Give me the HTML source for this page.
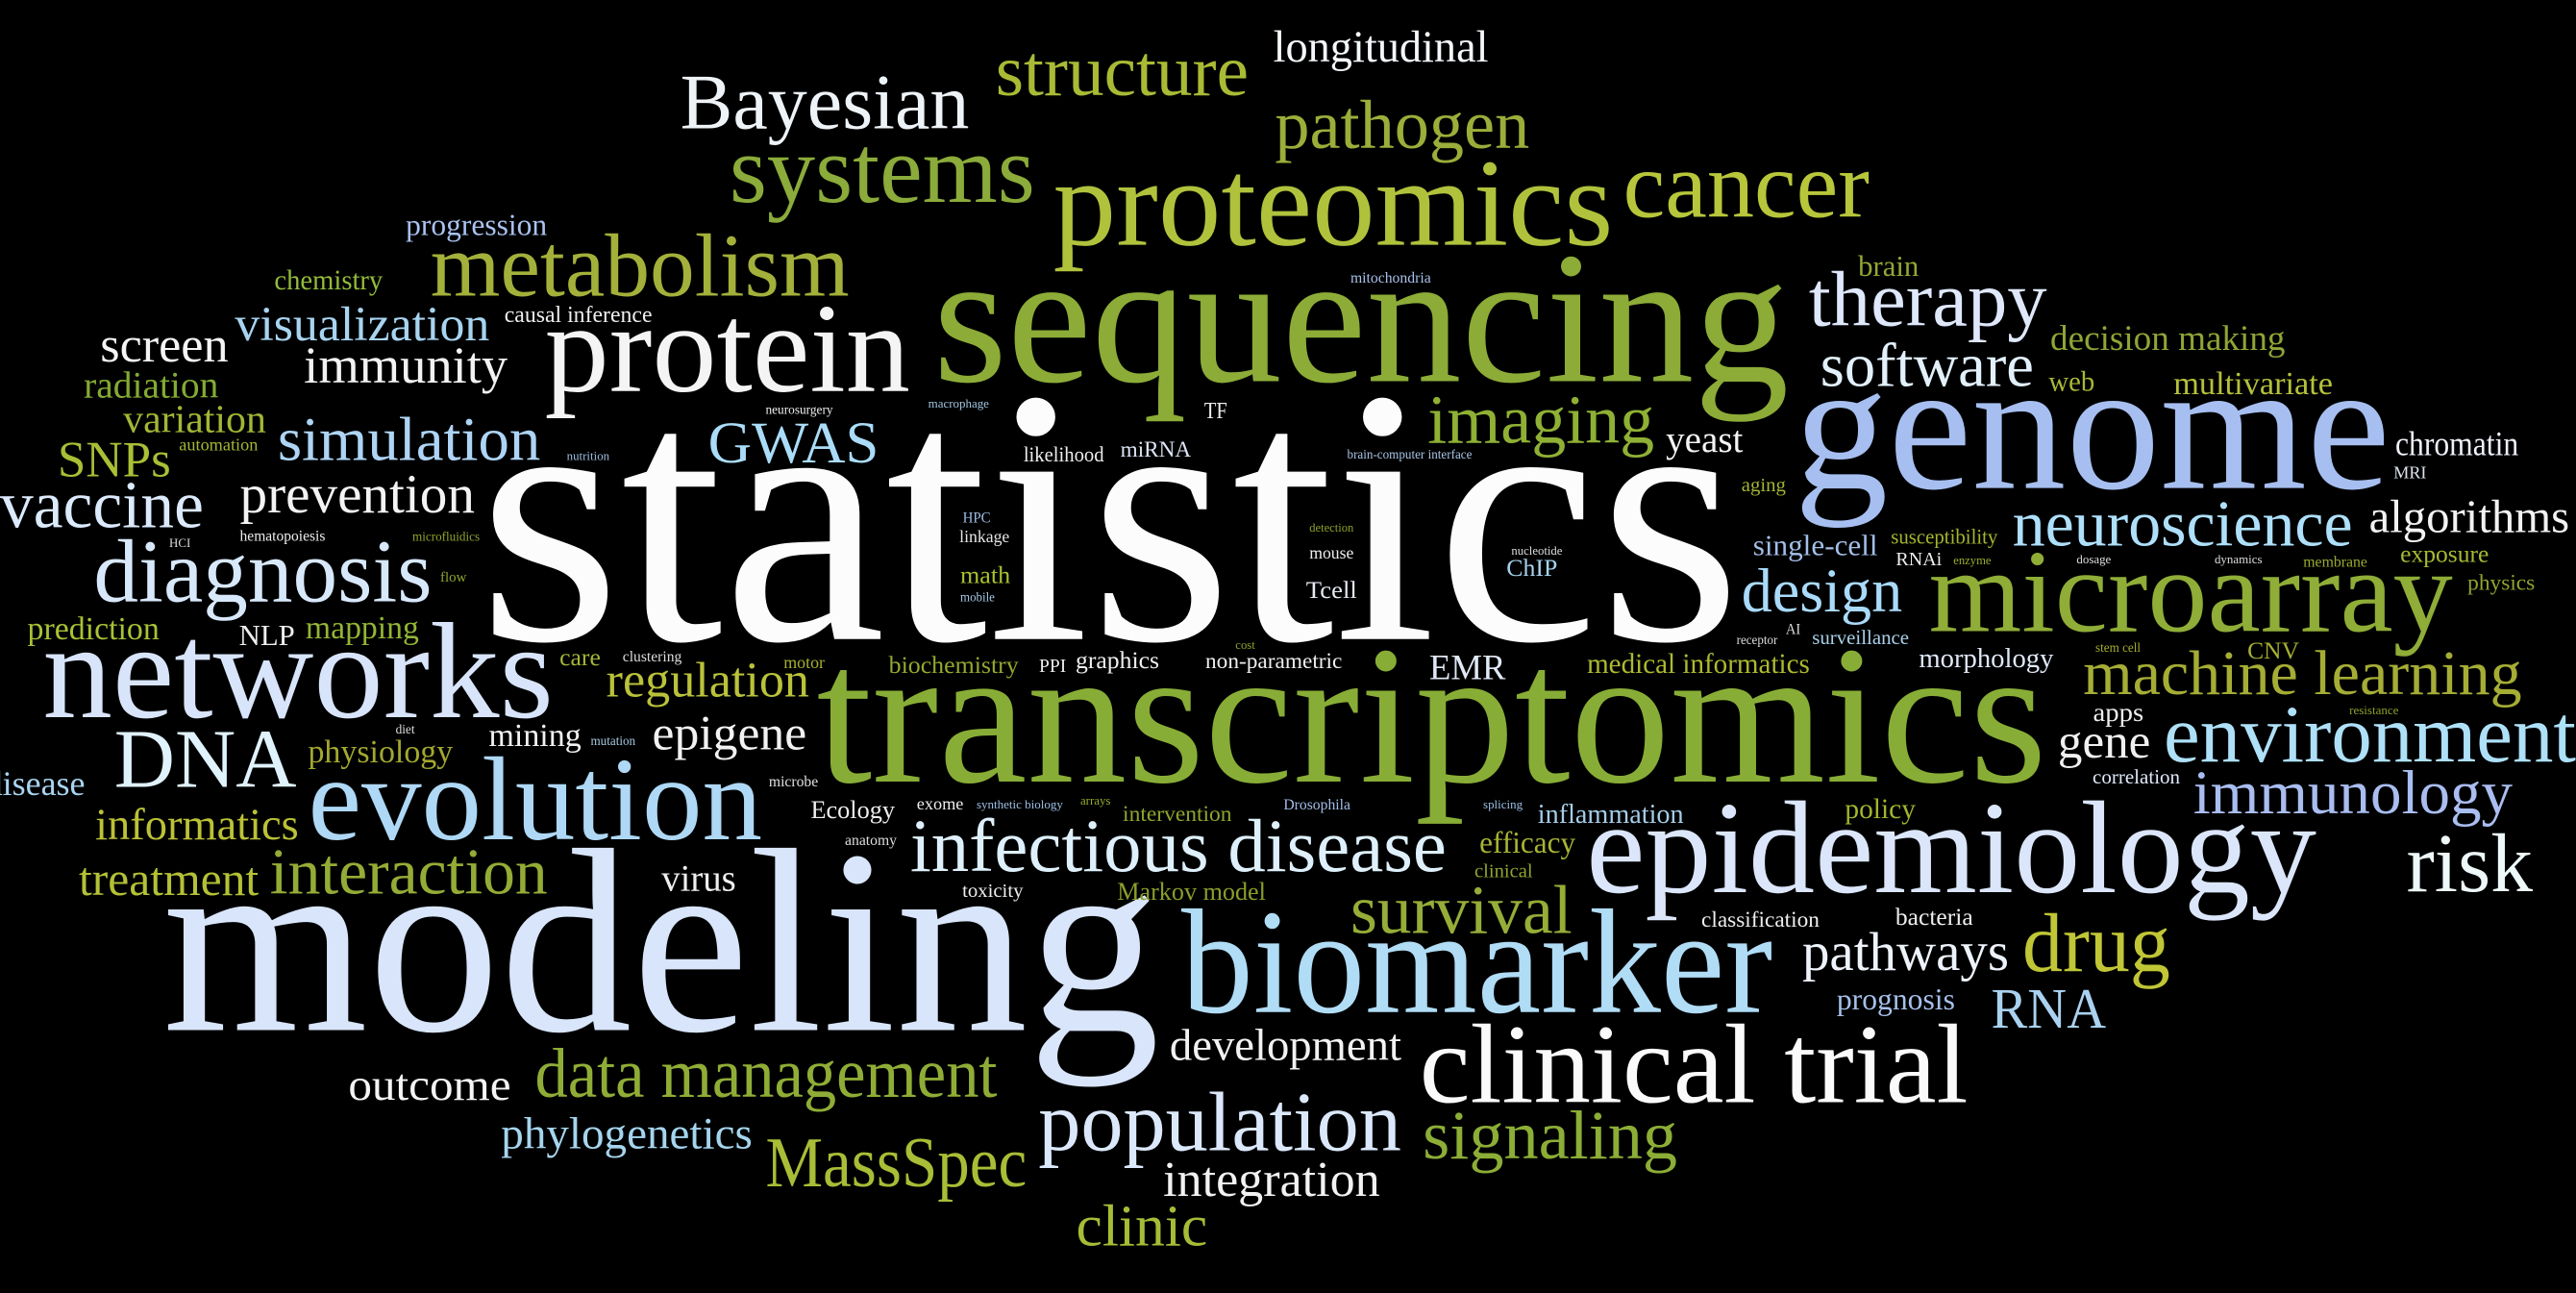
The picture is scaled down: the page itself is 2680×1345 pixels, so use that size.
<!DOCTYPE html>
<html lang="en">
<head>
<meta charset="utf-8">
<title>Word cloud</title>
<style>
html,body{margin:0;padding:0;background:#000;width:2680px;height:1345px;overflow:hidden}
svg{display:block}
text{font-family:"Liberation Serif","Times New Roman",serif;white-space:pre}
</style>
</head>
<body>
<svg xmlns="http://www.w3.org/2000/svg" width="2680" height="1345" viewBox="0 0 1568 787" preserveAspectRatio="none">
<rect width="1568" height="787" fill="#000"/>
<text x="291" y="389" font-size="222" textLength="769" lengthAdjust="spacingAndGlyphs" fill="#fcfcfc">statistics</text>
<text x="568" y="232" font-size="114.7" textLength="521" lengthAdjust="spacingAndGlyphs" fill="#8cac37">sequencing</text>
<text x="497" y="475.7" font-size="120.5" textLength="749" lengthAdjust="spacingAndGlyphs" fill="#88ad36">transcriptomics</text>
<text x="99" y="627" font-size="160" textLength="607" lengthAdjust="spacingAndGlyphs" fill="#d8e5fa">modeling</text>
<text x="1092" y="297" font-size="112.4" textLength="363" lengthAdjust="spacingAndGlyphs" fill="#a6bff0">genome</text>
<text x="641" y="149" font-size="76" textLength="341" lengthAdjust="spacingAndGlyphs" fill="#b0c23c">proteomics</text>
<text x="965.5" y="543" font-size="80.4" textLength="444.5" lengthAdjust="spacingAndGlyphs" fill="#dbe6fb">epidemiology</text>
<text x="719" y="616" font-size="91" textLength="360" lengthAdjust="spacingAndGlyphs" fill="#b0dcf5">biomarker</text>
<text x="26" y="436.5" font-size="83.5" textLength="311" lengthAdjust="spacingAndGlyphs" fill="#d8e4fa">networks</text>
<text x="1174" y="384" font-size="72" textLength="319" lengthAdjust="spacingAndGlyphs" fill="#8fad37">microarray</text>
<text x="331.5" y="238" font-size="77.6" textLength="222.5" lengthAdjust="spacingAndGlyphs" fill="#f4f4f4">protein</text>
<text x="187.5" y="510.8" font-size="72.6" textLength="276.5" lengthAdjust="spacingAndGlyphs" fill="#aed8f5">evolution</text>
<text x="864" y="671" font-size="69" textLength="334" lengthAdjust="spacingAndGlyphs" fill="#fafafa">clinical trial</text>
<text x="444" y="122.9" font-size="59" textLength="186" lengthAdjust="spacingAndGlyphs" fill="#8bab3a">systems</text>
<text x="988" y="132" font-size="57.5" textLength="150" lengthAdjust="spacingAndGlyphs" fill="#b7c63a">cancer</text>
<text x="262" y="180" font-size="54.6" textLength="255" lengthAdjust="spacingAndGlyphs" fill="#a3b03a">metabolism</text>
<text x="57" y="366" font-size="54.5" textLength="206" lengthAdjust="spacingAndGlyphs" fill="#d8e8fb">diagnosis</text>
<text x="632" y="700" font-size="51.7" textLength="221" lengthAdjust="spacingAndGlyphs" fill="#dbe8fb">population</text>
<text x="69.5" y="479" font-size="51" textLength="111" lengthAdjust="spacingAndGlyphs" fill="#e0f2fb">DNA</text>
<text x="1464.8" y="542.4" font-size="51" textLength="76.9" lengthAdjust="spacingAndGlyphs" fill="#eef8f8">risk</text>
<text x="1317" y="463.4" font-size="49.6" textLength="251" lengthAdjust="spacingAndGlyphs" fill="#aee0f8">environment</text>
<text x="1231" y="591" font-size="51" textLength="90" lengthAdjust="spacingAndGlyphs" fill="#c0c636">drug</text>
<text x="414" y="78" font-size="48" textLength="176" lengthAdjust="spacingAndGlyphs" fill="#eef3f8">Bayesian</text>
<text x="1101" y="198" font-size="48" textLength="145" lengthAdjust="spacingAndGlyphs" fill="#dfe8fb">therapy</text>
<text x="554" y="530" font-size="46.1" textLength="326.5" lengthAdjust="spacingAndGlyphs" fill="#def0fb">infectious disease</text>
<text x="606" y="58" font-size="44" textLength="154" lengthAdjust="spacingAndGlyphs" fill="#a9bb35">structure</text>
<text x="466" y="722" font-size="43.5" textLength="159" lengthAdjust="spacingAndGlyphs" fill="#a9bd36">MassSpec</text>
<text x="325.6" y="667.6" font-size="43" textLength="281.4" lengthAdjust="spacingAndGlyphs" fill="#8fad36">data management</text>
<text x="776" y="90" font-size="42" textLength="155" lengthAdjust="spacingAndGlyphs" fill="#9aae3a">pathogen</text>
<text x="869" y="269.6" font-size="42" textLength="138" lengthAdjust="spacingAndGlyphs" fill="#8fb035">imaging</text>
<text x="866" y="705" font-size="42.3" textLength="155" lengthAdjust="spacingAndGlyphs" fill="#8cad36">signaling</text>
<text x="822" y="568" font-size="42" textLength="135" lengthAdjust="spacingAndGlyphs" fill="#96ad38">survival</text>
<text x="0" y="321" font-size="40.6" textLength="124" lengthAdjust="spacingAndGlyphs" fill="#dbeafc">vaccine</text>
<text x="1225" y="332" font-size="39.7" textLength="207" lengthAdjust="spacingAndGlyphs" fill="#aee0fb">neuroscience</text>
<text x="164.3" y="543.8" font-size="39.5" textLength="169" lengthAdjust="spacingAndGlyphs" fill="#94ac36">interaction</text>
<text x="1268" y="422.4" font-size="38.6" textLength="267" lengthAdjust="spacingAndGlyphs" fill="#a5ad35">machine learning</text>
<text x="169" y="280" font-size="38" textLength="160" lengthAdjust="spacingAndGlyphs" fill="#aed4f5">simulation</text>
<text x="1335" y="495" font-size="38" textLength="194.4" lengthAdjust="spacingAndGlyphs" fill="#a9bdf0">immunology</text>
<text x="1108" y="235" font-size="37.8" textLength="130" lengthAdjust="spacingAndGlyphs" fill="#e2f0fb">software</text>
<text x="1060" y="372" font-size="37.5" textLength="98" lengthAdjust="spacingAndGlyphs" fill="#a9dafa">design</text>
<text x="431" y="281.4" font-size="36" textLength="104" lengthAdjust="spacingAndGlyphs" fill="#aadcf8">GWAS</text>
<text x="655" y="758" font-size="36" textLength="80" lengthAdjust="spacingAndGlyphs" fill="#a5bd36">clinic</text>
<text x="146" y="312" font-size="33.4" textLength="143" lengthAdjust="spacingAndGlyphs" fill="#f3f3f3">prevention</text>
<text x="1097" y="590.5" font-size="33.4" textLength="125.8" lengthAdjust="spacingAndGlyphs" fill="#eef3fb">pathways</text>
<text x="1212" y="625.4" font-size="34.5" textLength="70" lengthAdjust="spacingAndGlyphs" fill="#aad2f0">RNA</text>
<text x="185" y="233" font-size="31.6" textLength="124" lengthAdjust="spacingAndGlyphs" fill="#f2f2f2">immunity</text>
<text x="35" y="290" font-size="31" textLength="69" lengthAdjust="spacingAndGlyphs" fill="#a9bf36">SNPs</text>
<text x="61" y="220" font-size="30.5" textLength="78" lengthAdjust="spacingAndGlyphs" fill="#f5f5f5">screen</text>
<text x="369" y="424" font-size="30.5" textLength="123.6" lengthAdjust="spacingAndGlyphs" fill="#bac23a">regulation</text>
<text x="708" y="728" font-size="30.5" textLength="132" lengthAdjust="spacingAndGlyphs" fill="#f2f2f2">integration</text>
<text x="143" y="207" font-size="30" textLength="155" lengthAdjust="spacingAndGlyphs" fill="#a8d4f0">visualization</text>
<text x="397" y="456" font-size="30" textLength="94" lengthAdjust="spacingAndGlyphs" fill="#f2f2f2">epigene</text>
<text x="1252.6" y="461" font-size="29.9" textLength="56.4" lengthAdjust="spacingAndGlyphs" fill="#f0f0f0">gene</text>
<text x="48" y="544.7" font-size="29" textLength="109.5" lengthAdjust="spacingAndGlyphs" fill="#b4c136">treatment</text>
<text x="1442" y="324" font-size="28.5" textLength="122" lengthAdjust="spacingAndGlyphs" fill="#f2f2f2">algorithms</text>
<text x="212" y="669.5" font-size="27" textLength="99" lengthAdjust="spacingAndGlyphs" fill="#f4f4f4">outcome</text>
<text x="305" y="699" font-size="27.5" textLength="153" lengthAdjust="spacingAndGlyphs" fill="#a5d5ee">phylogenetics</text>
<text x="712" y="645" font-size="27.3" textLength="141" lengthAdjust="spacingAndGlyphs" fill="#f2f2f2">development</text>
<text x="58" y="510.8" font-size="27.2" textLength="123.8" lengthAdjust="spacingAndGlyphs" fill="#bbc236">informatics</text>
<text x="775" y="37.6" font-size="27" textLength="131" lengthAdjust="spacingAndGlyphs" fill="#f4f8fb">longitudinal</text>
<text x="75" y="263" font-size="24.2" textLength="87" lengthAdjust="spacingAndGlyphs" fill="#a3b636">variation</text>
<text x="51" y="242" font-size="23" textLength="82" lengthAdjust="spacingAndGlyphs" fill="#84ab33">radiation</text>
<text x="1014" y="275" font-size="23" textLength="47" lengthAdjust="spacingAndGlyphs" fill="#f4f4f4">yeast</text>
<text x="1248" y="213" font-size="21.7" textLength="143" lengthAdjust="spacingAndGlyphs" fill="#8fa535">decision making</text>
<text x="870" y="413.5" font-size="21.5" textLength="46.5" lengthAdjust="spacingAndGlyphs" fill="#e0e8f5">EMR</text>
<text x="1458" y="277" font-size="21" textLength="75" lengthAdjust="spacingAndGlyphs" fill="#eef1fa">chromatin</text>
<text x="-9" y="484" font-size="21" textLength="60.8" lengthAdjust="spacingAndGlyphs" fill="#a8d4f0">disease</text>
<text x="402.7" y="542" font-size="23" textLength="45.3" lengthAdjust="spacingAndGlyphs" fill="#eeeeee">virus</text>
<text x="1323" y="240" font-size="19.9" textLength="97" lengthAdjust="spacingAndGlyphs" fill="#b5c13a">multivariate</text>
<text x="297.5" y="454" font-size="19.9" textLength="56.3" lengthAdjust="spacingAndGlyphs" fill="#f2f2f2">mining</text>
<text x="16.7" y="389" font-size="19.8" textLength="80.3" lengthAdjust="spacingAndGlyphs" fill="#a8c236">prediction</text>
<text x="187.5" y="464" font-size="19.8" textLength="88.2" lengthAdjust="spacingAndGlyphs" fill="#a3a82f">physiology</text>
<text x="186" y="388.5" font-size="19.7" textLength="69" lengthAdjust="spacingAndGlyphs" fill="#93b535">mapping</text>
<text x="247" y="143" font-size="18.4" textLength="86" lengthAdjust="spacingAndGlyphs" fill="#a9c2f0">progression</text>
<text x="1118" y="614.3" font-size="18.5" textLength="72" lengthAdjust="spacingAndGlyphs" fill="#a5c0ea">prognosis</text>
<text x="900.5" y="519" font-size="18.3" textLength="58.5" lengthAdjust="spacingAndGlyphs" fill="#a9b535">efficacy</text>
<text x="1067" y="338" font-size="18.2" textLength="76" lengthAdjust="spacingAndGlyphs" fill="#a3bfe9">single-cell</text>
<text x="145.5" y="392.6" font-size="18" textLength="34" lengthAdjust="spacingAndGlyphs" fill="#eeeeee">NLP</text>
<text x="1131" y="168" font-size="18" textLength="37" lengthAdjust="spacingAndGlyphs" fill="#96a833">brain</text>
<text x="1247" y="238" font-size="17.4" textLength="28" lengthAdjust="spacingAndGlyphs" fill="#a9b835">web</text>
<text x="167" y="176" font-size="17" textLength="66" lengthAdjust="spacingAndGlyphs" fill="#93bb3a">chemistry</text>
<text x="966" y="409.6" font-size="17" textLength="135.6" lengthAdjust="spacingAndGlyphs" fill="#adba30">medical informatics</text>
<text x="1123" y="498" font-size="17" textLength="43" lengthAdjust="spacingAndGlyphs" fill="#a3b52e">policy</text>
<text x="1168" y="406" font-size="16.8" textLength="82" lengthAdjust="spacingAndGlyphs" fill="#e0e8f8">morphology</text>
<text x="936" y="501" font-size="16.5" textLength="88.8" lengthAdjust="spacingAndGlyphs" fill="#a5cde8">inflammation</text>
<text x="1274" y="438.8" font-size="16" textLength="30.8" lengthAdjust="spacingAndGlyphs" fill="#eeeeee">apps</text>
<text x="493.5" y="498" font-size="15.4" textLength="51.2" lengthAdjust="spacingAndGlyphs" fill="#eeeeee">Ecology</text>
<text x="680" y="547.6" font-size="15.4" textLength="90.5" lengthAdjust="spacingAndGlyphs" fill="#8b9e2a">Markov model</text>
<text x="1461" y="342" font-size="15" textLength="54" lengthAdjust="spacingAndGlyphs" fill="#a8bb33">exposure</text>
<text x="795" y="364" font-size="15" textLength="31" lengthAdjust="spacingAndGlyphs" fill="#e5e9f2">Tcell</text>
<text x="917" y="350.5" font-size="15" textLength="31" lengthAdjust="spacingAndGlyphs" fill="#a5d3f0">ChIP</text>
<text x="584.5" y="355" font-size="15" textLength="30.5" lengthAdjust="spacingAndGlyphs" fill="#a9c22e">math</text>
<text x="340.6" y="405" font-size="15" textLength="25" lengthAdjust="spacingAndGlyphs" fill="#a5b535">care</text>
<text x="541" y="409.6" font-size="15" textLength="79" lengthAdjust="spacingAndGlyphs" fill="#95a82e">biochemistry</text>
<text x="654.7" y="406.6" font-size="15" textLength="50.9" lengthAdjust="spacingAndGlyphs" fill="#eeeeee">graphics</text>
<text x="1153.7" y="563" font-size="15" textLength="47.3" lengthAdjust="spacingAndGlyphs" fill="#eeeeee">bacteria</text>
<text x="1368" y="400.8" font-size="14.9" textLength="31.5" lengthAdjust="spacingAndGlyphs" fill="#a5b030">CNV</text>
<text x="733" y="254.5" font-size="14" textLength="14" lengthAdjust="spacingAndGlyphs" fill="#eeeeee">TF</text>
<text x="307" y="196" font-size="13.9" textLength="90" lengthAdjust="spacingAndGlyphs" fill="#eeeeee">causal inference</text>
<text x="1502" y="359" font-size="13.7" textLength="41" lengthAdjust="spacingAndGlyphs" fill="#8fa430">physics</text>
<text x="683.4" y="499.7" font-size="13.7" textLength="66.4" lengthAdjust="spacingAndGlyphs" fill="#8ea52e">intervention</text>
<text x="682" y="278" font-size="13.6" textLength="43" lengthAdjust="spacingAndGlyphs" fill="#dfe6f8">miRNA</text>
<text x="733.7" y="406.6" font-size="13.6" textLength="83.3" lengthAdjust="spacingAndGlyphs" fill="#eeeeee">non-parametric</text>
<text x="1035.6" y="564" font-size="13.6" textLength="71.9" lengthAdjust="spacingAndGlyphs" fill="#eeeeee">classification</text>
<text x="623" y="281" font-size="13" textLength="49" lengthAdjust="spacingAndGlyphs" fill="#eeeeee">likelihood</text>
<text x="1151" y="331" font-size="12.7" textLength="65" lengthAdjust="spacingAndGlyphs" fill="#a5b52f">susceptibility</text>
<text x="1273.7" y="477" font-size="12.3" textLength="53.3" lengthAdjust="spacingAndGlyphs" fill="#e0e8f8">correlation</text>
<text x="1103" y="392" font-size="12.2" textLength="59" lengthAdjust="spacingAndGlyphs" fill="#a9cfe9">surveillance</text>
<text x="1060" y="299" font-size="12" textLength="27" lengthAdjust="spacingAndGlyphs" fill="#a5b535">aging</text>
<text x="897.5" y="534" font-size="12" textLength="35.5" lengthAdjust="spacingAndGlyphs" fill="#8fa52e">clinical</text>
<text x="585.7" y="546" font-size="12" textLength="37.1" lengthAdjust="spacingAndGlyphs" fill="#eeeeee">toxicity</text>
<text x="1154" y="344" font-size="11.7" textLength="28" lengthAdjust="spacingAndGlyphs" fill="#eeeeee">RNAi</text>
<text x="632.5" y="409" font-size="11.5" textLength="16.5" lengthAdjust="spacingAndGlyphs" fill="#eeeeee">PPI</text>
<text x="109" y="274" font-size="10.7" textLength="48" lengthAdjust="spacingAndGlyphs" fill="#a5b635">automation</text>
<text x="558" y="492.6" font-size="10.7" textLength="28.5" lengthAdjust="spacingAndGlyphs" fill="#eeeeee">exome</text>
<text x="1457" y="291" font-size="10.6" textLength="20" lengthAdjust="spacingAndGlyphs" fill="#dde3ee">MRI</text>
<text x="477" y="406.6" font-size="10.5" textLength="25" lengthAdjust="spacingAndGlyphs" fill="#a5b030">motor</text>
<text x="797" y="340" font-size="10.4" textLength="27" lengthAdjust="spacingAndGlyphs" fill="#eeeeee">mouse</text>
<text x="584" y="330" font-size="10.4" textLength="30.5" lengthAdjust="spacingAndGlyphs" fill="#e5e5e5">linkage</text>
<text x="822" y="172" font-size="9.2" textLength="49" lengthAdjust="spacingAndGlyphs" fill="#a8c0ea">mitochondria</text>
<text x="1402" y="345" font-size="9.2" textLength="39" lengthAdjust="spacingAndGlyphs" fill="#9cac30">membrane</text>
<text x="781.3" y="492.6" font-size="9.2" textLength="40.7" lengthAdjust="spacingAndGlyphs" fill="#a3bde8">Drosophila</text>
<text x="514.3" y="514.3" font-size="9.2" textLength="31.6" lengthAdjust="spacingAndGlyphs" fill="#dddddd">anatomy</text>
<text x="379" y="402.6" font-size="9.1" textLength="36" lengthAdjust="spacingAndGlyphs" fill="#dddddd">clustering</text>
<text x="146" y="329" font-size="9" textLength="52" lengthAdjust="spacingAndGlyphs" fill="#eeeeee">hematopoiesis</text>
<text x="586" y="318" font-size="9" textLength="17" lengthAdjust="spacingAndGlyphs" fill="#9fbbe6">HPC</text>
<text x="1087" y="386" font-size="9" textLength="9" lengthAdjust="spacingAndGlyphs" fill="#dddddd">AI</text>
<text x="468" y="478.6" font-size="9" textLength="30" lengthAdjust="spacingAndGlyphs" fill="#e0e0e0">microbe</text>
<text x="268" y="354" font-size="8.7" textLength="16" lengthAdjust="spacingAndGlyphs" fill="#8ba52e">flow</text>
<text x="466" y="252" font-size="7.8" textLength="41" lengthAdjust="spacingAndGlyphs" fill="#eeeeee">neurosurgery</text>
<text x="240.8" y="446.4" font-size="7.8" textLength="11.7" lengthAdjust="spacingAndGlyphs" fill="#dddddd">diet</text>
<text x="251" y="329" font-size="7.7" textLength="41" lengthAdjust="spacingAndGlyphs" fill="#8fa52e">microfluidics</text>
<text x="820" y="279" font-size="7.7" textLength="76" lengthAdjust="spacingAndGlyphs" fill="#a8c5e8">brain-computer interface</text>
<text x="584.5" y="366" font-size="7.7" textLength="21" lengthAdjust="spacingAndGlyphs" fill="#a5c8e5">mobile</text>
<text x="1057" y="392" font-size="7.7" textLength="25" lengthAdjust="spacingAndGlyphs" fill="#dddddd">receptor</text>
<text x="1275.5" y="396.7" font-size="7.7" textLength="27.5" lengthAdjust="spacingAndGlyphs" fill="#a5ae2e">stem cell</text>
<text x="359.5" y="453.4" font-size="7.7" textLength="27.3" lengthAdjust="spacingAndGlyphs" fill="#a5c8e0">mutation</text>
<text x="565" y="248" font-size="7.6" textLength="37" lengthAdjust="spacingAndGlyphs" fill="#9fc3df">macrophage</text>
<text x="1264" y="343" font-size="7.6" textLength="21" lengthAdjust="spacingAndGlyphs" fill="#dddddd">dosage</text>
<text x="1348" y="343" font-size="7.6" textLength="29" lengthAdjust="spacingAndGlyphs" fill="#dddddd">dynamics</text>
<text x="1430" y="434.7" font-size="7.6" textLength="30" lengthAdjust="spacingAndGlyphs" fill="#8f9f2a">resistance</text>
<text x="594.4" y="492" font-size="7.6" textLength="52.6" lengthAdjust="spacingAndGlyphs" fill="#9fbfe5">synthetic biology</text>
<text x="902.8" y="492" font-size="7.6" textLength="24" lengthAdjust="spacingAndGlyphs" fill="#9dbfe5">splicing</text>
<text x="345" y="280" font-size="7.5" textLength="26" lengthAdjust="spacingAndGlyphs" fill="#9dbfe0">nutrition</text>
<text x="103" y="333" font-size="7.5" textLength="13" lengthAdjust="spacingAndGlyphs" fill="#dddddd">HCI</text>
<text x="920" y="337.5" font-size="7.5" textLength="31" lengthAdjust="spacingAndGlyphs" fill="#dddddd">nucleotide</text>
<text x="657.6" y="489.7" font-size="7.5" textLength="18.4" lengthAdjust="spacingAndGlyphs" fill="#9aab2a">arrays</text>
<text x="1189" y="343.5" font-size="7.4" textLength="23" lengthAdjust="spacingAndGlyphs" fill="#9cab30">enzyme</text>
<text x="797" y="323.5" font-size="7.4" textLength="27" lengthAdjust="spacingAndGlyphs" fill="#8ca02a">detection</text>
<text x="752" y="395" font-size="7.4" textLength="12" lengthAdjust="spacingAndGlyphs" fill="#8ca02a">cost</text>
</svg>
</body>
</html>
